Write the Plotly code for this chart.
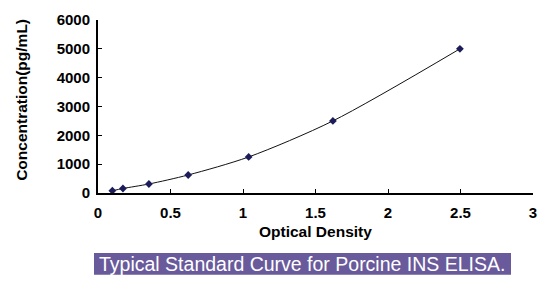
import plotly.graph_objects as go

od = [0.099, 0.172, 0.351, 0.622, 1.039, 1.62, 2.496]
conc = [78, 156, 312, 625, 1250, 2500, 5000]
x_ticks = [0, 0.5, 1, 1.5, 2, 2.5, 3]
x_labels = ["0", "0.5", "1", "1.5", "2", "2.5", "3"]
y_ticks = [0, 1000, 2000, 3000, 4000, 5000, 6000]
caption = "Typical Standard Curve for Porcine INS ELISA."
x_title = "Optical Density"
y_title = "Concentration(pg/mL)"

FONT = "Arial, Liberation Sans, sans-serif"
W, H = 559, 293
L, R, T, B = 98, 26, 11, 100
pw, ph = W - L - R, H - T - B

def px_x(p):
    return (p - L) / pw

def px_y(p):
    return (H - B - p) / ph

fig = go.Figure()
fig.add_trace(go.Scatter(
    x=od, y=conc, mode="lines+markers",
    line=dict(color="#111111", width=1, shape="spline", smoothing=0.8),
    marker=dict(symbol="diamond", size=6, color="#1c1c5a"),
    showlegend=False,
))

axis_common = dict(
    showgrid=False, zeroline=False, showline=True, linecolor="black", linewidth=2,
    ticks="inside", ticklen=4, tickwidth=1, tickcolor="black",
    tickfont=dict(family=FONT, size=15, color="black", weight="bold"),
)
fig.update_xaxes(range=[0, 3], tickvals=x_ticks, ticktext=x_labels, ticklabelstandoff=5, **axis_common)
fig.update_yaxes(range=[0, 6000], tickvals=y_ticks, ticklabelstandoff=3, **axis_common)

fig.add_annotation(text=x_title, xref="paper", yref="paper", x=px_x(315), y=px_y(233),
                   showarrow=False, font=dict(family=FONT, size=15.5, color="black", weight="bold"),
                   xanchor="center", yanchor="middle")
fig.add_annotation(text=y_title, xref="paper", yref="paper", x=px_x(22), y=px_y(95),
                   showarrow=False, textangle=-90,
                   font=dict(family=FONT, size=15.5, color="black", weight="bold"),
                   xanchor="center", yanchor="middle")

fig.add_shape(type="rect", xref="paper", yref="paper",
              x0=px_x(94), x1=px_x(511), y0=px_y(256), y1=px_y(279),
              fillcolor="#695a9b", line=dict(width=0), layer="below")
fig.add_annotation(text=caption, xref="paper", yref="paper", x=px_x(302), y=px_y(267.5),
                   showarrow=False, font=dict(family=FONT, size=19.5, color="white"),
                   xanchor="center", yanchor="middle")

fig.update_layout(
    width=W, height=H, margin=dict(l=L, r=R, t=T, b=B),
    paper_bgcolor="white", plot_bgcolor="white",
)
fig.write_html("out.html")
